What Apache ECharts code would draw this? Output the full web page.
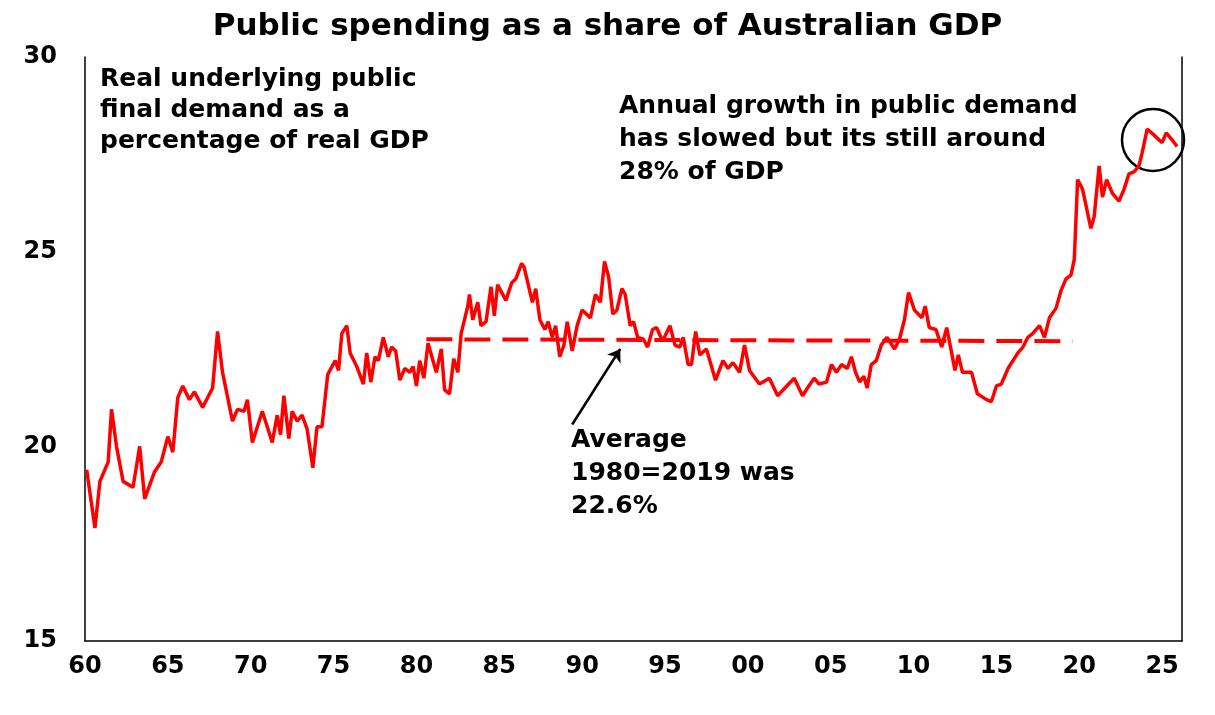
<!DOCTYPE html>
<html>
<head>
<meta charset="utf-8">
<script src="https://cdn.jsdelivr.net/npm/echarts@6/dist/echarts.min.js"></script>
<style>
  html, body { margin: 0; padding: 0; background: #fff; }
  #chart { width: 1215px; height: 715px; }
</style>
</head>
<body>
<div id="chart"></div>
<script>
// public demand share of GDP (year, %)
var years = [1960.1, 1960.6, 1960.9, 1961.4, 1961.6, 1961.9, 1962.3, 1962.9, 1963.3, 1963.6,
    1964.2, 1964.6, 1965.0, 1965.3, 1965.6, 1965.9, 1966.3, 1966.6, 1967.1, 1967.7,
    1968.0, 1968.3, 1968.9, 1969.2, 1969.6, 1969.8, 1970.1, 1970.7, 1971.3, 1971.6,
    1971.8, 1972.0, 1972.3, 1972.5, 1972.8, 1973.1, 1973.4, 1973.75, 1974.0, 1974.3,
    1974.65, 1975.1, 1975.3, 1975.5, 1975.8, 1976.0, 1976.4, 1976.8, 1977.0, 1977.25,
    1977.5, 1977.7, 1978.0, 1978.3, 1978.5, 1978.75, 1979.0, 1979.3, 1979.6, 1979.8,
    1980.0, 1980.2, 1980.45, 1980.7, 1981.2, 1981.5, 1981.7, 1982.0, 1982.25, 1982.5,
    1982.7, 1983.1, 1983.2, 1983.4, 1983.7, 1983.9, 1984.2, 1984.5, 1984.7, 1984.9,
    1985.4, 1985.75, 1986.0, 1986.35, 1986.5, 1987.0, 1987.2, 1987.45, 1987.75, 1987.95,
    1988.2, 1988.4, 1988.65, 1988.9, 1989.1, 1989.4, 1989.7, 1990.0, 1990.5, 1990.8,
    1991.1, 1991.35, 1991.6, 1991.85, 1992.1, 1992.4, 1992.6, 1992.9, 1993.1, 1993.35,
    1993.7, 1993.95, 1994.25, 1994.5, 1994.85, 1995.3, 1995.6, 1995.9, 1996.1, 1996.4,
    1996.6, 1996.85, 1997.1, 1997.5, 1998.05, 1998.5, 1998.8, 1999.1, 1999.5, 1999.8,
    2000.1, 2000.7, 2001.3, 2001.8, 2002.35, 2002.8, 2003.3, 2003.6, 2004.0, 2004.3,
    2004.75, 2005.05, 2005.35, 2005.65, 2006.0, 2006.25, 2006.5, 2006.75, 2007.0, 2007.2,
    2007.45, 2007.75, 2008.05, 2008.4, 2008.85, 2009.15, 2009.45, 2009.7, 2010.05, 2010.5,
    2010.7, 2010.95, 2011.35, 2011.7, 2012.0, 2012.3, 2012.5, 2012.7, 2012.95, 2013.5,
    2013.85, 2014.4, 2014.7, 2015.0, 2015.3, 2015.7, 2016.0, 2016.3, 2016.6, 2016.9,
    2017.2, 2017.6, 2017.9, 2018.2, 2018.6, 2018.9, 2019.2, 2019.5, 2019.7, 2019.9,
    2020.2, 2020.7, 2020.9, 2021.2, 2021.4, 2021.65, 2022.0, 2022.4, 2022.7, 2023.0,
    2023.3, 2023.6, 2023.8, 2024.1, 2024.5, 2025.0, 2025.25, 2025.55, 2025.9];
var shareOfGdp = [19.4, 17.9, 19.1, 19.6, 20.95, 20.0, 19.1, 18.95, 20.0, 18.65,
    19.35, 19.6, 20.25, 19.85, 21.25, 21.55, 21.2, 21.4, 21.0, 21.5,
    22.95, 21.9, 20.65, 20.95, 20.9, 21.2, 20.1, 20.9, 20.1, 20.8,
    20.3, 21.3, 20.2, 20.9, 20.65, 20.8, 20.45, 19.45, 20.5, 20.5,
    21.85, 22.2, 21.95, 22.9, 23.1, 22.4, 22.05, 21.6, 22.4, 21.65,
    22.3, 22.2, 22.8, 22.3, 22.55, 22.45, 21.7, 22.0, 21.9, 22.05,
    21.55, 22.2, 21.75, 22.65, 21.9, 22.5, 21.45, 21.35, 22.25, 21.9,
    22.9, 23.6, 23.9, 23.25, 23.7, 23.1, 23.2, 24.1, 23.35, 24.15,
    23.75, 24.2, 24.3, 24.7, 24.6, 23.7, 24.05, 23.25, 23.0, 23.2,
    22.8, 23.1, 22.3, 22.6, 23.2, 22.45, 23.1, 23.5, 23.3, 23.9,
    23.7, 24.75, 24.35, 23.4, 23.5, 24.05, 23.9, 23.1, 23.2, 22.8,
    22.75, 22.55, 23.0, 23.05, 22.7, 23.1, 22.6, 22.55, 22.8, 22.1,
    22.1, 22.95, 22.35, 22.5, 21.7, 22.2, 22.0, 22.15, 21.9, 22.6,
    21.95, 21.6, 21.75, 21.3, 21.55, 21.75, 21.3, 21.5, 21.75, 21.6,
    21.65, 22.1, 21.9, 22.1, 22.0, 22.3, 21.9, 21.65, 21.8, 21.5,
    22.1, 22.2, 22.6, 22.8, 22.5, 22.75, 23.25, 23.95, 23.5, 23.3,
    23.6, 23.05, 23.0, 22.55, 23.05, 22.4, 21.95, 22.35, 21.9, 21.9,
    21.35, 21.2, 21.15, 21.55, 21.6, 22.0, 22.2, 22.4, 22.55, 22.8,
    22.9, 23.1, 22.8, 23.3, 23.55, 24.0, 24.3, 24.4, 24.8, 26.85,
    26.6, 25.6, 25.9, 27.2, 26.4, 26.85, 26.5, 26.3, 26.6, 27.0,
    27.05, 27.2, 27.55, 28.15, 28.0, 27.8, 28.05, 27.9, 27.7];

// 1980-2019 average as drawn
var avgYears = [1980.6, 2019.6];
var avgValues = [22.75, 22.7];

var xTicks = [1960, 1965, 1970, 1975, 1980, 1985, 1990, 1995, 2000, 2005, 2010, 2015, 2020, 2025];

function pairs(xs, ys) {
    var out = [];
    for (var i = 0; i < xs.length; i++) out.push([xs[i], ys[i]]);
    return out;
}

var chart = echarts.init(document.getElementById('chart'));
var font = '"DejaVu Sans", Verdana, sans-serif';

var option = {
    animation: false,
    title: {
        text: 'Public spending as a share of Australian GDP',
        left: 'center',
        top: 6,
        textStyle: { fontFamily: font, fontSize: 31, fontWeight: 'bold', color: '#000' }
    },
    grid: { left: 85, right: 33, top: 57, bottom: 74 },
    xAxis: {
        type: 'value',
        min: 1960,
        max: 2026.2,
        interval: 5,
        axisLine: { show: true, lineStyle: { color: '#000', width: 1.5 } },
        axisTick: { show: false },
        splitLine: { show: false },
        axisLabel: {
            showMaxLabel: false,
            margin: 14,
            fontFamily: font, fontSize: 24, fontWeight: 'bold', color: '#000',
            formatter: function (v) {
                if (xTicks.indexOf(v) < 0) return '';
                var s = String(v % 100);
                return s.length < 2 ? '0' + s : s;
            }
        }
    },
    yAxis: [{
        type: 'value',
        min: 15,
        max: 30,
        interval: 5,
        axisLine: { show: true, lineStyle: { color: '#000', width: 1.5 } },
        axisTick: { show: false },
        splitLine: { show: false },
        axisLabel: { margin: 28, fontFamily: font, fontSize: 24, fontWeight: 'bold', color: '#000' }
    }, {
        type: 'value',
        position: 'right',
        min: 15,
        max: 30,
        axisLine: { show: true, lineStyle: { color: '#000', width: 1.5 } },
        axisTick: { show: false },
        axisLabel: { show: false },
        splitLine: { show: false }
    }],
    series: [{
        type: 'line',
        data: pairs(years, shareOfGdp),
        showSymbol: false,
        lineStyle: { color: '#ff0000', width: 3.5 },
        z: 3
    }, {
        type: 'line',
        data: pairs(avgYears, avgValues),
        showSymbol: false,
        lineStyle: { color: '#ff0000', width: 4, type: [26, 12] },
        z: 2,
        markLine: {
            silent: true,
            symbol: ['none', 'arrow'],
            symbolSize: 12,
            label: { show: false },
            lineStyle: { color: '#000', width: 2.5, type: 'solid' },
            data: [[{ coord: [1989.4, 20.56] }, { coord: [1992.3, 22.5] }]]
        }
    }],
    graphic: [{
        type: 'text', left: 100, top: 64,
        style: {
            text: 'Real underlying public\nfinal demand as a\npercentage of real GDP',
            font: 'bold 25px ' + font, fill: '#000', lineHeight: 31
        }
    }, {
        type: 'text', left: 619, top: 90,
        style: {
            text: 'Annual growth in public demand\nhas slowed but its still around\n28% of GDP',
            font: 'bold 25px ' + font, fill: '#000', lineHeight: 33
        }
    }, {
        type: 'text', left: 571, top: 424,
        style: {
            text: 'Average\n1980=2019 was\n22.6%',
            font: 'bold 25px ' + font, fill: '#000', lineHeight: 33
        }
    }, {
        type: 'circle',
        shape: { cx: 1153, cy: 140, r: 31 },
        style: { fill: 'none', stroke: '#000', lineWidth: 2.5 }
    }]
};

chart.setOption(option);
</script>
</body>
</html>
